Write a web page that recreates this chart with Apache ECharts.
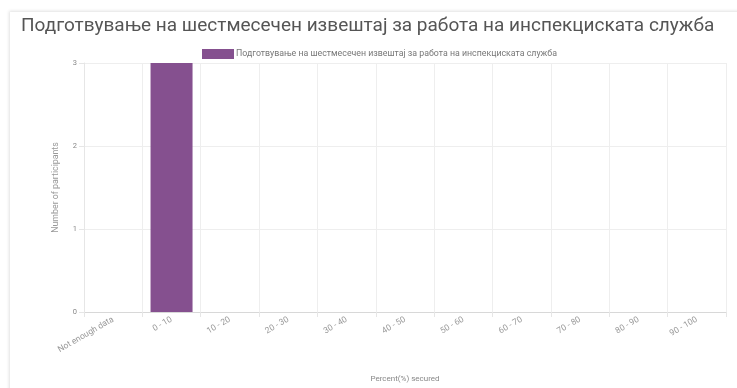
<!DOCTYPE html>
<html>
<head>
<meta charset="utf-8">
<script src="https://cdn.jsdelivr.net/npm/echarts@6/dist/echarts.min.js"></script>
<style>
html,body{margin:0;padding:0;background:#fff;}
#card{position:absolute;left:10px;top:12px;width:760px;height:400px;background:#fff;box-shadow:-1px -1px 3px rgba(0,0,0,0.12);}
#chart{position:absolute;left:0;top:0;width:737px;height:388px;}
</style>
</head>
<body>
<div id="card"></div>
<div id="chart"></div>
<script>
const titleText = "Подготвување на шестмесечен извештај за работа на инспекциската служба";
const seriesName = "Подготвување на шестмесечен извештај за работа на инспекциската служба";
const categories = ["Not enough data","0 - 10","10 - 20","20 - 30","30 - 40","40 - 50","50 - 60","60 - 70","70 - 80","80 - 90","90 - 100"];
const values = [0,3,0,0,0,0,0,0,0,0,0];
const yTicks = [0,1,2,3];

const chart = echarts.init(document.getElementById('chart'), null, {renderer:'canvas'});
chart.setOption({
  animation:false,
  title:{
    text:titleText, left:16, top:12,
    textStyle:{fontFamily:'Roboto', fontSize:19, fontWeight:'normal', color:'#555'}
  },
  legend:{
    left:197, top:44, itemWidth:32, itemHeight:10, icon:'rect',
    textStyle:{fontFamily:'Roboto', fontSize:8.8, color:'#777', padding:[0,0,0,-3]},
    data:[seriesName]
  },
  grid:{left:84, right:11, top:63, bottom:70, containLabel:false},
  xAxis:{
    type:'category', data:categories,
    name:'Percent(%) secured', nameLocation:'middle', nameGap:63,
    nameTextStyle:{fontFamily:'Roboto', fontSize:8, color:'#888'},
    axisLine:{show:true, lineStyle:{color:'#d8d8d8'}},
    axisTick:{show:true, length:5, lineStyle:{color:'#e6e6e6'}},
    axisLabel:{rotate:30, fontFamily:'Roboto', fontSize:8.5, color:'#999', margin:7},
    splitLine:{show:true, lineStyle:{color:'#eeeeee'}}
  },
  yAxis:{
    type:'value', min:0, max:3, interval:1,
    name:'Number of participants', nameLocation:'middle', nameGap:24,
    nameTextStyle:{fontFamily:'Roboto', fontSize:8.8, color:'#999'},
    axisLine:{show:true, lineStyle:{color:'#e6e6e6'}},
    axisTick:{show:true, length:5, lineStyle:{color:'#e6e6e6'}},
    axisLabel:{fontFamily:'Roboto', fontSize:7.5, color:'#888', margin:7,
      formatter:v=>yTicks.includes(v)?String(v):''},
    splitLine:{show:true, lineStyle:{color:'#eeeeee'}}
  },
  series:[{
    name:seriesName, type:'bar', data:values, barWidth:42,
    itemStyle:{color:'#85508f'}
  }]
});
</script>
</body>
</html>
